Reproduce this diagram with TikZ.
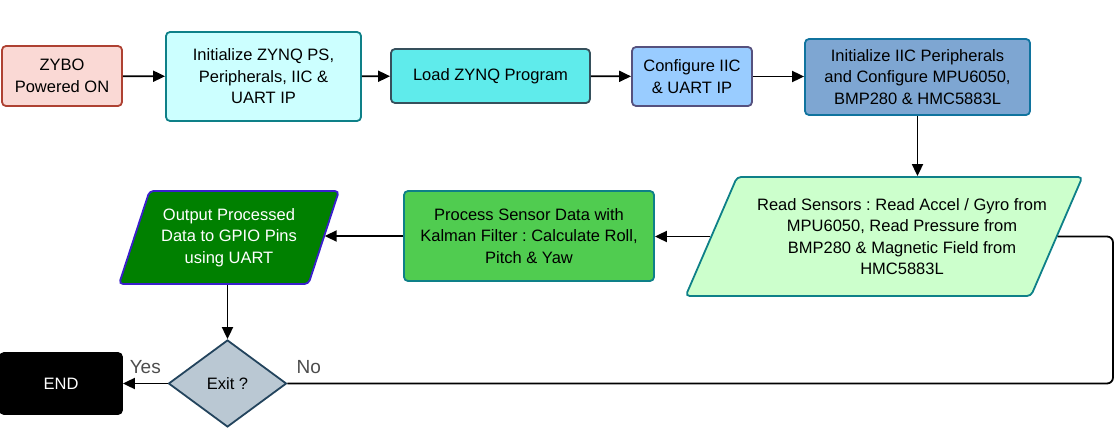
\documentclass[tikz,border=0pt]{standalone}
\usepackage{fontspec}
\setmainfont{Liberation Sans}
\usetikzlibrary{arrows.meta,shapes.geometric}
\frenchspacing

\definecolor{zyboFill}{HTML}{FAD9D5}
\definecolor{zyboLine}{HTML}{AE4132}
\definecolor{psFill}{HTML}{CCFFFF}
\definecolor{tealLine}{HTML}{0E8088}
\definecolor{loadFill}{HTML}{5FEBEB}
\definecolor{loadLine}{HTML}{36505C}
\definecolor{cfgFill}{HTML}{99CCFF}
\definecolor{cfgLine}{HTML}{56517E}
\definecolor{iicFill}{HTML}{7EA6D2}
\definecolor{iicLine}{HTML}{10739E}
\definecolor{readFill}{HTML}{CCFFCC}
\definecolor{procFill}{HTML}{50CC50}
\definecolor{outFill}{HTML}{008000}
\definecolor{outLine}{HTML}{3A1FCC}
\definecolor{exitFill}{HTML}{BAC8D3}
\definecolor{exitLine}{HTML}{23445D}
\definecolor{labelGray}{HTML}{4D4D4D}

\begin{document}
\begin{tikzpicture}[x=1pt,y=-1pt,
    font=\fontsize{16.5}{21.5}\selectfont,
    box/.style={draw, rounded corners=4pt, line width=1.8pt, align=center, inner sep=0pt},
    io/.style={trapezium, draw, rounded corners=4pt, line width=1.8pt, align=center,
      trapezium stretches=true, inner sep=0pt},
    line/.style={line width=1.8pt},
    answer/.style={text=labelGray, font=\fontsize{19}{21}\selectfont},
    >={Triangle[length=12pt,width=11pt]}]
		\useasboundingbox (0,0) rectangle (1117,431);
		%
		\node[box, fill=zyboFill, draw=zyboLine, minimum width=120, minimum height=60] (zybo) at (62,76) {ZYBO\\Powered ON};
		\node[box, fill=psFill, draw=tealLine, minimum width=195, minimum height=89] (initps) at (263.5,76.5) {Initialize ZYNQ PS,\\Peripherals, IIC \&\\UART IP};
		\node[box, fill=loadFill, draw=loadLine, minimum width=199, minimum height=54] (load) at (490.5,76) {Load ZYNQ Program};
		\node[box, fill=cfgFill, draw=cfgLine, minimum width=120, minimum height=59] (config) at (692,76.5) {Configure IIC\\\& UART IP};
		\node[box, fill=iicFill, draw=iicLine, minimum width=225, minimum height=76] (iic) at (917.5,77) {Initialize IIC Peripherals\\and Configure MPU6050,\\BMP280 \& HMC5883L};
		%
		\node[io, fill=readFill, draw=tealLine, trapezium left angle=56.5, trapezium right angle=123.5,
		  minimum width=398, minimum height=119, inner xsep=-18pt] (read) at (884,236.5)
		  {\hspace*{36pt}Read Sensors : Read Accel / Gyro from\\\hspace*{36pt}MPU6050, Read Pressure from\\\hspace*{36pt}BMP280 \& Magnetic Field from\\\hspace*{36pt}HMC5883L};
		\node[box, fill=procFill, draw=tealLine, minimum width=250, minimum height=90] (proc) at (529,236) {Process Sensor Data with\\Kalman Filter : Calculate Roll,\\Pitch \& Yaw};
		\node[io, fill=outFill, draw=outLine, text=white, trapezium left angle=66, trapezium right angle=114,
		  minimum width=220, minimum height=93] (out) at (229,237.5) {Output Processed\\Data to GPIO Pins\\using UART};
		%
		\node[diamond, draw=exitLine, fill=exitFill, line width=1.8pt, aspect=1.36, inner sep=0pt,
		  minimum width=118, minimum height=87] (exit) at (227.5,383.5) {Exit ?};
		\node[box, fill=black, text=white, minimum width=122, minimum height=61] (end) at (61,383.5) {END};
		\coordinate (turn) at (1113,383.5);
		%
		\path[->, line]
		(zybo) edge (initps)
		(initps) edge (load)
		(load) edge (config)
		(config.east) edge (config.east -| iic.west)
		(iic.south) edge (iic.south |- read.north)
		(read.west) edge (read.west -| proc.east)
		(proc.west) edge (proc.west -| out.east)
		(out.south -| exit.north) edge (exit.north)
		(exit) edge node[above=6pt, answer]{Yes} (end);
		\draw[line, rounded corners=6pt] (exit.east) -- node[pos=0.026, above=6pt, answer]{No} (turn) |- (read.east);
		\end{tikzpicture}
\end{document}
